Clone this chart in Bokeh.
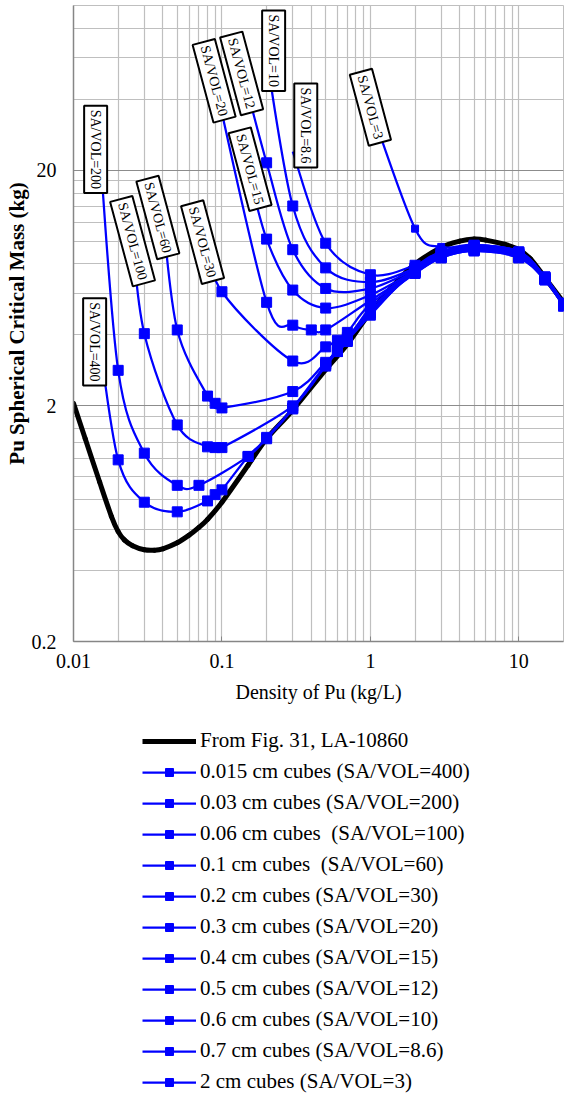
import numpy as np
from bokeh.plotting import figure
from bokeh.layouts import column
from bokeh.models import (FixedTicker, CustomJSTickFormatter, Legend, LegendItem,
                          Label, ColumnDataSource, Range1d)
from bokeh.embed import file_html
from bokeh.resources import INLINE

# ---------------- data ----------------
ref_name = "From Fig. 31, LA-10860"
ref_density = [0.01, 0.012, 0.015, 0.018, 0.02, 0.022, 0.025, 0.03, 0.035, 0.04, 0.05,
               0.06, 0.07, 0.08, 0.1, 0.15, 0.2, 0.3, 0.5, 0.7, 1, 1.5, 2, 3, 4, 5,
               6, 8, 10, 12, 15, 20]
ref_mass = [2.05, 1.45, 0.95, 0.68, 0.585, 0.54, 0.51, 0.49, 0.488, 0.495, 0.525,
            0.565, 0.61, 0.66, 0.78, 1.12, 1.45, 1.92, 2.85, 3.65, 5.0, 6.7, 8.0, 9.4, 10.0, 10.2,
            10.1, 9.7, 9.2, 8.4, 7.0, 5.5]

series_names = [
    "0.015 cm cubes (SA/VOL=400)",
    "0.03 cm cubes (SA/VOL=200)",
    "0.06 cm cubes  (SA/VOL=100)",
    "0.1 cm cubes  (SA/VOL=60)",
    "0.2 cm cubes (SA/VOL=30)",
    "0.3 cm cubes (SA/VOL=20)",
    "0.4 cm cubes (SA/VOL=15)",
    "0.5 cm cubes (SA/VOL=12)",
    "0.6 cm cubes (SA/VOL=10)",
    "0.7 cm cubes (SA/VOL=8.6)",
    "2 cm cubes (SA/VOL=3)",
]
point_labels = ["SA/VOL=400", "SA/VOL=200", "SA/VOL=100", "SA/VOL=60", "SA/VOL=30",
                "SA/VOL=20", "SA/VOL=15", "SA/VOL=12", "SA/VOL=10", "SA/VOL=8.6", "SA/VOL=3"]

dens_400 = [0.015, 0.02, 0.03, 0.05, 0.08, 0.09, 0.1, 0.15, 0.2, 0.3, 0.5, 0.6, 0.7, 1, 2, 3, 5, 10, 15, 20]
mass_400 = [3.7, 1.18, 0.78, 0.71, 0.79, 0.84, 0.88, 1.22, 1.45, 1.94, 2.95, 3.4, 3.8, 4.85, 7.7, 9.0, 9.6, 9.0, 7.05, 5.45]

dens_200 = [0.015, 0.02, 0.03, 0.05, 0.07, 0.15, 0.2, 0.3, 0.5, 0.6, 0.7, 1, 2, 3, 5, 10, 15, 20]
mass_200 = [25, 2.83, 1.26, 0.92, 0.92, 1.22, 1.47, 1.96, 3.0, 3.45, 3.85, 4.95, 7.5, 8.8, 9.4, 8.8, 6.95, 5.4]

dens_100 = [0.025, 0.03, 0.05, 0.08, 0.09, 0.1, 0.3, 0.5, 0.6, 0.7, 1, 2, 3, 5, 10, 15, 20]
mass_100 = [10, 4.05, 1.66, 1.34, 1.33, 1.33, 2.0, 3.0, 3.5, 3.9, 5.05, 7.4, 8.6, 9.2, 8.6, 6.9, 5.35]

dens_60 = [0.04, 0.05, 0.08, 0.09, 0.1, 0.3, 0.5, 0.6, 0.7, 1, 2, 3, 5, 10, 15, 20]
mass_60 = [12.6, 4.2, 2.2, 2.05, 1.96, 2.3, 3.06, 3.4, 3.75, 5.2, 7.3, 8.5, 9.1, 8.5, 6.85, 5.3]

dens_30 = [0.08, 0.1, 0.3, 0.5, 0.6, 0.7, 1, 2, 3, 5, 10, 15, 20]
mass_30 = [10, 6.1, 3.1, 3.56, 3.8, 4.1, 5.4, 7.3, 8.5, 9.1, 8.5, 6.85, 5.3]

dens_20 = [0.09, 0.2, 0.3, 0.4, 0.5, 1, 2, 3, 5, 10, 15, 20]
mass_20 = [47, 5.5, 4.4, 4.2, 4.2, 5.6, 7.4, 8.6, 9.2, 8.6, 6.9, 5.35]

dens_15 = [0.15, 0.2, 0.3, 0.5, 1, 2, 3, 5, 10, 15, 20]
mass_15 = [20, 10.2, 6.2, 5.2, 5.9, 7.5, 8.7, 9.3, 8.7, 6.95, 5.4]

dens_12 = [0.14, 0.2, 0.3, 0.5, 1, 2, 3, 5, 10, 15, 20]
mass_12 = [50, 21.5, 9.2, 6.3, 6.3, 7.6, 8.8, 9.4, 8.8, 7.0, 5.4]

dens_10 = [0.2, 0.3, 0.5, 1, 2, 3, 5, 10, 15, 20]
mass_10 = [60, 14.1, 7.7, 6.7, 7.7, 8.9, 9.5, 8.9, 7.0, 5.45]

dens_8_6 = [0.3, 0.5, 1, 2, 3, 5, 10, 15, 20]
mass_8_6 = [24, 9.8, 7.2, 7.9, 9.0, 9.6, 9.0, 7.05, 5.45]

dens_3 = [1, 2, 3, 5, 10, 15, 20]
mass_3 = [37, 11.3, 9.45, 9.65, 9.05, 7.05, 5.45]

series_data = [(dens_400, mass_400), (dens_200, mass_200), (dens_100, mass_100),
               (dens_60, mass_60), (dens_30, mass_30), (dens_20, mass_20),
               (dens_15, mass_15), (dens_12, mass_12), (dens_10, mass_10),
               (dens_8_6, mass_8_6), (dens_3, mass_3)]

# label box styling: angle (deg), pixel offset from the series' first point
label_style = [(-90, -5, 1), (-90, -4, -2), (-75, 0, 0), (-75, -5, 0), (-75, -5, -1),
               (-75, -1, 2), (-75, 2, 1), (-75, -2, 3), (-90, 7, 7), (-90, 13, 26), (-75, 0, 0)]

BLUE = "#0000FF"
FONT = "Liberation Serif"
W = 566


def smooth_source(xs, ys):
    """Bezier control points for a smoothed line (computed in log-log space)."""
    lx = np.log10(np.asarray(xs, float))
    ly = np.log10(np.asarray(ys, float))
    n = len(lx)
    i = np.arange(n - 1)
    ip = np.maximum(i - 1, 0)
    inn = np.minimum(i + 2, n - 1)
    c0x = lx[i] + (lx[i + 1] - lx[ip]) / 6.0
    c0y = ly[i] + (ly[i + 1] - ly[ip]) / 6.0
    c1x = lx[i + 1] - (lx[inn] - lx[i]) / 6.0
    c1y = ly[i + 1] - (ly[inn] - ly[i]) / 6.0
    return ColumnDataSource(dict(
        x0=10 ** lx[i], y0=10 ** ly[i], x1=10 ** lx[i + 1], y1=10 ** ly[i + 1],
        cx0=10 ** c0x, cy0=10 ** c0y, cx1=10 ** c1x, cy1=10 ** c1y))


BEZ = dict(x0="x0", y0="y0", x1="x1", y1="y1", cx0="cx0", cy0="cy0", cx1="cx1", cy1="cy1")

# ---------------- main chart ----------------
p = figure(width=W, height=716, x_axis_type="log", y_axis_type="log",
           x_range=(0.01, 20), y_range=(0.2, 100), output_backend="svg",
           toolbar_location=None, min_border_left=73, min_border_right=3,
           min_border_top=5, min_border_bottom=75,
           outline_line_color="#BFBFBF",
           background_fill_color="white", border_fill_color="white")

x_minor = [round(m * d, 6) for d in (0.01, 0.1, 1) for m in range(2, 10)] + [20]
y_minor = ([round(0.2 * k, 6) for k in range(2, 10)] + [round(2 * k, 6) for k in range(2, 10)]
           + [40, 60, 80, 100])
p.xaxis.ticker = FixedTicker(ticks=[0.01, 0.1, 1, 10], minor_ticks=x_minor)
p.yaxis.ticker = FixedTicker(ticks=[0.2, 2, 20], minor_ticks=y_minor)
fmt = CustomJSTickFormatter(code="return String(tick);")
p.xaxis.formatter = fmt
p.yaxis.formatter = fmt

p.xgrid.grid_line_color = "#BFBFBF"
p.xgrid.minor_grid_line_color = "#BFBFBF"
p.xgrid.grid_line_width = 1.2
p.xgrid.minor_grid_line_width = 1.2
p.ygrid.grid_line_color = "#8C8C8C"
p.ygrid.minor_grid_line_color = "#BFBFBF"
p.ygrid.grid_line_width = 1.2
p.ygrid.minor_grid_line_width = 1.2

for ax in (p.xaxis[0], p.yaxis[0]):
    ax.axis_line_color = "#868686"
    ax.axis_line_width = 1.5
    ax.major_tick_line_color = "#868686"
    ax.minor_tick_in = 0
    ax.minor_tick_out = 0
    ax.major_label_text_font = FONT
    ax.major_label_text_font_size = "20px"
    ax.major_label_text_color = "black"
    ax.axis_label_text_font = FONT
    ax.axis_label_text_font_size = "20px"
    ax.axis_label_text_color = "black"
    ax.axis_label_text_font_style = "normal"

p.xaxis.major_tick_in = 5
p.xaxis.major_tick_out = 0
p.xaxis.major_label_standoff = 12
p.xaxis.axis_label = "Density of Pu (kg/L)"
p.xaxis.axis_label_standoff = 10

p.yaxis.major_tick_in = 0
p.yaxis.major_tick_out = 0
p.yaxis.major_label_standoff = 17
p.yaxis.axis_label = "Pu Spherical Critical Mass (kg)"
p.yaxis.axis_label_text_font_style = "bold"
p.yaxis.axis_label_text_font_size = "21px"
p.yaxis.axis_label_standoff = 0

ref_src = smooth_source(ref_density, ref_mass)
p.bezier(source=ref_src, line_color="black", line_width=5, line_cap="round", **BEZ)

series_src = []
for k, ((xs, ys), txt, (ang, dx, dy)) in enumerate(zip(series_data, point_labels, label_style)):
    msize = 7 if k == len(series_data) - 1 else 10
    src = smooth_source(xs, ys)
    pts = ColumnDataSource(dict(x=xs[1:], y=ys[1:]))
    series_src.append((src, pts))
    p.bezier(source=src, line_color=BLUE, line_width=2.25, **BEZ)
    p.scatter(x="x", y="y", source=pts, marker="square", size=msize,
              fill_color=BLUE, line_color=BLUE)
    p.add_layout(Label(x=xs[0], y=ys[0], text=txt, angle=ang, angle_units="deg",
                       x_offset=dx, y_offset=dy, text_align="center",
                       text_baseline="middle", text_font=FONT, text_font_size="14px",
                       text_color="black", background_fill_color="white",
                       border_line_color="black", border_line_width=2, padding=4))

# ---------------- legend panel (below the chart) ----------------
# Same series are attached here (ranges exclude them, so nothing is drawn in
# this panel except the legend itself).
lg = figure(width=W, height=379, x_range=Range1d(-20, -10), y_range=Range1d(-20, -10),
            output_backend="svg", toolbar_location=None,
            x_axis_location=None, y_axis_location=None, min_border=0,
            outline_line_color=None, background_fill_color="white",
            border_fill_color="white")
lg.grid.visible = False

items = [LegendItem(label=ref_name, renderers=[
    lg.bezier(source=ref_src, line_color="black", line_width=5, **BEZ)])]
for k, (name, (src, pts)) in enumerate(zip(series_names, series_src)):
    msize = 6 if k == len(series_names) - 1 else 8
    r_line = lg.bezier(source=src, line_color=BLUE, line_width=2.25, **BEZ)
    r_pts = lg.scatter(x="x", y="y", source=pts, marker="square", size=msize,
                       fill_color=BLUE, line_color=BLUE)
    items.append(LegendItem(label=name, renderers=[r_line, r_pts]))

legend = Legend(items=items, location=(69, 1), orientation="vertical",
                label_text_font=FONT, label_text_font_size="21px",
                label_text_color="black", glyph_width=54, glyph_height=20,
                label_height=20, label_standoff=4, spacing=6, padding=0,
                margin=0, border_line_color=None, background_fill_alpha=0)
lg.add_layout(legend, "center")

layout = column(p, lg, spacing=0)
open("out.html", "w").write(file_html(layout, INLINE))
